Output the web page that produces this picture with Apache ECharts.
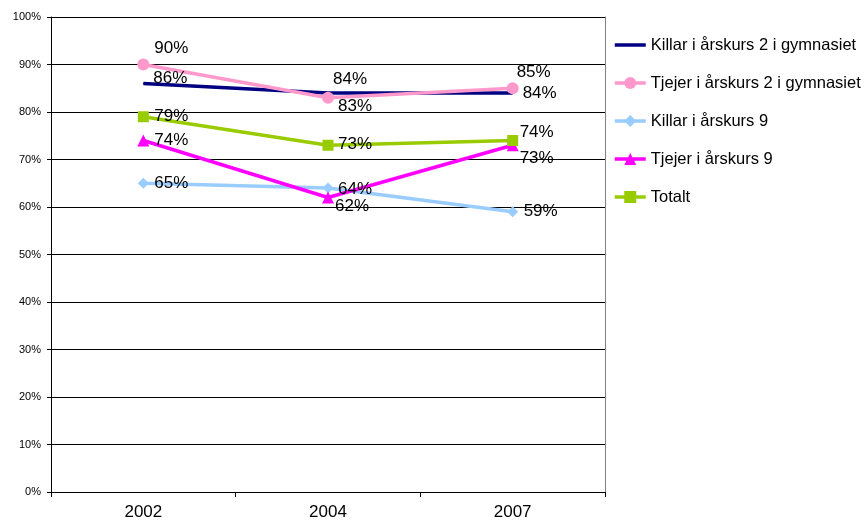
<!DOCTYPE html>
<html>
<head>
<meta charset="utf-8">
<style>
    html, body { margin: 0; padding: 0; background: #fff; }
    #chart { width: 868px; height: 523px; }
</style>
</head>
<body>
<div id="chart"></div>
<script src="https://cdn.jsdelivr.net/npm/echarts@6/dist/echarts.min.js"></script>
<script>
    // data
    var years = ['2002', '2004', '2007'];
    var seriesNames = [
        'Killar i årskurs 2 i gymnasiet',
        'Tjejer i årskurs 2 i gymnasiet',
        'Killar i årskurs 9',
        'Tjejer i årskurs 9',
        'Totalt'
    ];
    var killarGym = [86, 84, 84];
    var tjejerGym = [90, 83, 85];
    var killar9 = [65, 64, 59];
    var tjejer9 = [74, 62, 73];
    var totalt = [79, 73, 74];
    var yTicks = [0, 100, 10]; // min, max, step

    // label placement (pixels from the point), one per point
    var labelShift = [
        [[27, -5], [22, -14], [27, 0]],
        [[28, -16], [27, 9], [21, -16]],
        [[28, 0], [27, 1], [28, 0]],
        [[28, 0], [24, 9], [24, 13]],
        [[28, 0], [27, -1], [24, -8]]
    ];

    var colors = ['#000080', '#FF99CC', '#99CCFF', '#FF00FF', '#99CC00'];
    var symbols = ['circle', 'circle', 'diamond', 'triangle', 'rect'];
    var symbolSizes = [1, 12, 11, 12, 11];
    var values = [killarGym, tjejerGym, killar9, tjejer9, totalt];

    var font = '"Liberation Sans", Arial, sans-serif';

    var series = values.map(function (vals, i) {
        return {
            name: seriesNames[i],
            type: 'line',
            data: vals.map(function (v, j) {
                return {
                    value: v,
                    label: { offset: labelShift[i][j] }
                };
            }),
            symbol: symbols[i],
            symbolSize: symbolSizes[i],
            showSymbol: true,
            color: colors[i],
            lineStyle: { width: 3.5, color: colors[i] },
            itemStyle: { color: colors[i] },
            label: {
                show: true,
                position: 'inside',
                formatter: '{c}%',
                color: '#000',
                fontSize: 17,
                fontFamily: font
            },
            emphasis: { disabled: true },
            animation: false
        };
    });

    var chart = echarts.init(document.getElementById('chart'));
    chart.setOption({
        backgroundColor: '#fff',
        animation: false,
        grid: { left: 51, right: 263, top: 17, bottom: 31 },
        legend: {
            orient: 'vertical',
            left: 613,
            top: 35,
            padding: 0,
            itemWidth: 31,
            itemHeight: 15,
            itemGap: 18,
            itemTextGap: 2,
            selectedMode: false,
            lineStyle: { width: 3.5 },
            textStyle: { color: '#000', fontSize: 16.5, fontFamily: font, lineHeight: 20 },
            data: seriesNames.map(function (n, i) {
                return i === 0 ? { name: n, itemStyle: { opacity: 0 } } : { name: n };
            })
        },
        xAxis: {
            type: 'category',
            data: years,
            boundaryGap: true,
            axisLine: { lineStyle: { color: '#000', width: 1 } },
            axisTick: { show: true, length: 5, interval: 0, lineStyle: { color: '#000' } },
            axisLabel: { color: '#000', fontSize: 17, fontFamily: font, margin: 12 }
        },
        yAxis: [{
            type: 'value',
            min: yTicks[0],
            max: yTicks[1],
            interval: yTicks[2],
            axisLine: { show: true, lineStyle: { color: '#000', width: 1 } },
            axisTick: { show: true, length: 4, lineStyle: { color: '#000' } },
            axisLabel: { color: '#000', fontSize: 11, fontFamily: font, margin: 10, formatter: '{value}%' },
            splitLine: { show: true, lineStyle: { color: '#000', width: 1 } }
        }, {
            type: 'value',
            position: 'right',
            min: yTicks[0],
            max: yTicks[1],
            interval: yTicks[2],
            axisLine: { show: true, lineStyle: { color: '#808080', width: 1 } },
            axisTick: { show: false },
            axisLabel: { show: false },
            splitLine: { show: false }
        }],
        series: series
    });
</script>
</body>
</html>
